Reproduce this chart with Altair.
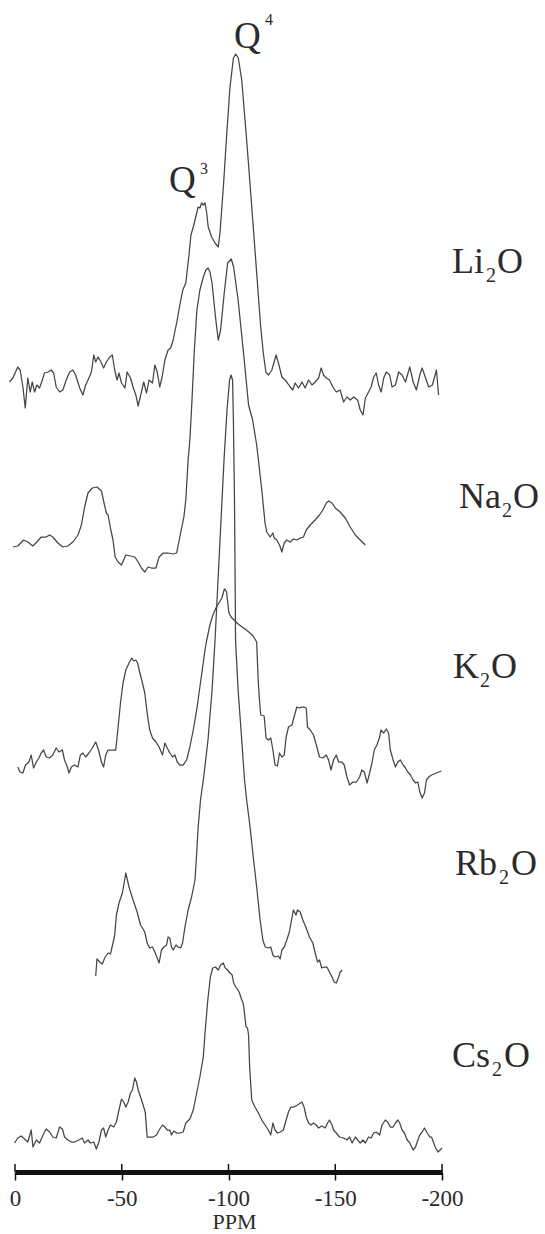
import altair as alt
import pandas as pd

# ---------------- data ----------------
series = ["Li2O", "Na2O", "K2O", "Rb2O", "Cs2O"]
# vertical offset of each spectrum's baseline (stacking offset, arbitrary units)
offsets = [790, 627, 410, 217, 34]

li_ppm = [2.6, 1.0, -1.3, -2.4, -3.7, -4.8, -6.0, -7.1, -8.1, -9.2, -10.2, -11.5, -12.8, -13.8, -15.4,
          -17.0, -18.1, -19.3, -20.9, -22.4, -24.0, -25.6, -27.1, -28.4, -30.3, -31.8, -33.1, -34.2, -35.8,
          -36.9, -37.8, -38.9, -40.5, -41.5, -42.8, -44.4, -45.6, -46.7, -47.8, -48.7, -49.9, -51.5, -52.5,
          -54.1, -55.3, -56.6, -57.7, -59.2, -60.3, -61.6, -62.8, -64.4, -65.5, -66.6, -67.8, -68.9, -70.2,
          -71.7, -72.9, -74.1, -75.7,
          -77.2, -78.6, -80.0, -81.5, -82.4, -83.5, -85.1, -85.8, -86.6, -87.4, -88.2, -89.0, -89.8, -90.5,
          -92.1, -93.7, -95.2, -96.0, -97.6, -99.2, -100.7, -102.3, -103.4, -104.6, -106.2, -108.5, -110.9,
          -112.4, -113.8, -115.0, -116.3, -117.5,
          -118.7, -120.3, -122.3, -123.4, -125.0, -126.5, -127.6, -128.9, -130.1, -131.2, -132.8, -134.4,
          -135.9, -137.5, -139.1, -140.6, -142.2, -143.4, -144.5, -145.8, -147.3, -148.9, -150.5, -152.3,
          -153.9, -155.5, -157.0, -158.6, -160.5, -161.7, -163.0, -164.1, -165.6, -166.8, -168.0, -169.2,
          -170.3, -171.5, -172.7, -173.9, -175.5, -176.6, -178.2, -179.7, -181.3, -182.9, -184.9, -186.5,
          -188.0, -189.6, -190.7, -192.3, -193.8, -195.5, -197.4, -198.4]
li_int = [0, 4, 15, 12, -5, -26, 4, -10, 0, -10, -3, -6, 2, 9, 10, 12, 9, -5, -10, -8,
          2, 10, 12, 7, -6, -13, -3, 2, 10, 27, 20, 25, 19, 14, 20, 25, 27, 12, 2, 9,
          -1, -6, 10, 4, -5, -13, -24, -10, 0, -11, 2, -1, 17, 10, -5, 5, 22, 32, 34, 42, 59,
          77, 92, 99, 127, 147, 155, 169, 175, 174, 179, 177, 179, 169, 155, 145, 139, 135, 149, 195, 249,
          295, 324, 328, 324, 302, 242, 175, 132, 92, 57, 29, 10,
          7, 12, 27, 19, 5, 2, -1, -5, -8, -1, -6, 0, -6, 2, -3, 0, 4, 14, 7, 4,
          2, -5, -10, -8, -20, -15, -18, -15, -18, -28, -33, -16, -10, -5, 5, 9, -3, -10, 4, 10,
          7, -5, -3, 10, 7, 0, 15, 0, -8, 7, 14, 4, -5, -3, 12, -13]

na_ppm = [1.0, -1.3, -4.0, -6.0, -8.4, -10.2, -12.3, -14.6, -16.2, -17.7, -20.1, -22.4, -24.8, -27.1,
          -29.5, -31.1, -32.6, -34.2, -36.2, -38.4, -40.5, -41.7, -42.8, -43.6, -44.7, -45.9, -46.9, -48.3,
          -49.9, -51.9, -54.1, -56.1, -57.7, -59.2, -60.8, -62.3, -63.9, -66.0, -67.5, -69.4, -71.7, -74.1,
          -75.7, -77.2, -79.1, -80.0, -81.1, -81.9,
          -82.9, -84.0, -85.2, -86.6, -88.2, -89.4, -90.4, -91.3, -92.3, -93.9, -95.2, -96.3, -98.0, -99.6,
          -101.3, -102.4, -104.5, -106.9, -109.4, -111.3, -113.2, -115.6, -117.1, -117.9,
          -119.5, -120.8, -121.4, -122.6, -123.9, -125.0, -126.1, -127.3, -128.9, -130.4, -132.0, -133.6,
          -135.1, -136.4, -138.3, -140.6, -142.6, -144.2, -145.8, -146.9, -148.5, -150.0, -152.3, -154.7,
          -157.0, -159.4, -161.7, -164.1]
na_int = [-2, -1, 5, 3, -1, 3, 8, 8, 10, 8, 2, -2, -1, 3, 10, 20, 38, 52, 57, 58,
          54, 42, 32, 30, 17, 5, -12, -17, -20, -10, -11, -12, -17, -23, -27, -22, -23, -23, -12, -8,
          -8, -9, -8, 8, 28, 45, 85, 105,
          145, 195, 235, 255, 268, 275, 277, 273, 262, 228, 205, 215, 252, 282, 286, 278, 245, 195, 140, 125,
          100, 55, 22, 13,
          8, 12, 7, 5, 0, -7, 2, 5, 3, 6, 5, 7, 8, 15, 20, 25, 30, 35, 42, 44, 42, 37, 33, 27, 18, 10, 5, 0]

k_ppm = [-1.3, -2.4, -3.7, -4.9, -6.5, -7.6, -8.7, -10.0, -11.2, -12.3, -13.4, -14.6, -16.2, -17.7, -19.3,
         -20.6, -22.2, -23.2, -24.5, -25.3, -26.4, -27.9, -29.5, -30.6, -31.8, -33.1, -34.6, -36.2, -37.8,
         -39.1, -40.5, -41.5, -42.5, -43.6, -45.9, -47.2, -48.3, -49.4, -50.6, -51.9, -53.4, -54.7, -55.6,
         -56.6, -57.4, -58.5, -59.7, -60.8, -61.9, -63.1, -64.4, -66.0, -67.5, -69.1, -70.2, -71.3, -72.5,
         -73.8, -74.9, -76.0, -77.2, -78.8, -80.4, -81.9, -83.5, -85.1, -86.6, -87.9, -89.0, -89.8,
         -91.3, -92.7, -94.1, -95.5, -96.9, -97.7, -98.1, -98.6, -99.1, -99.5, -100.2, -101.2, -102.6,
         -104.5, -106.4, -108.3, -110.1, -111.5, -113.2, -113.9, -114.5, -115.1,
         -116.7, -117.6, -118.7, -119.8, -120.8, -121.8, -122.9,
         -123.9, -125.0, -126.1, -127.0, -128.1, -129.7, -130.7, -132.0, -133.2, -134.4, -135.4, -136.4,
         -137.0, -138.3, -139.8, -141.4, -142.6, -144.2, -145.8, -146.9, -148.0, -149.2, -150.5, -151.6,
         -153.1, -154.2, -155.5, -156.7, -158.3, -159.9, -161.4, -162.5, -163.6, -164.9, -166.1, -167.2,
         -168.3, -169.5, -170.8, -171.4, -172.7, -173.9, -175.0, -175.8, -177.1, -178.2, -179.3, -180.5,
         -181.8, -182.9, -184.0, -185.2, -186.5, -187.6, -188.7, -189.6, -190.7, -191.8, -192.7, -193.8,
         -195.1, -197.4, -199.7]
k_int = [-5, -10, -11, -3, 0, 7, -6, 0, 4, 9, 12, 5, 4, 7, 14, 10, 12, 2, -5, -11,
         -5, -3, -5, 7, 9, 5, 9, 14, 20, 12, 0, -5, 7, 12, 12, 12, 35, 59, 79, 92,
         99, 104, 101, 102, 99, 89, 79, 69, 49, 32, 24, 20, 15, 7, 19, 14, 9, 5, 7, 0,
         -3, -3, 2, 15, 32, 52, 75, 95, 112, 122,
         137, 147, 154, 159, 164, 170, 173, 172, 170, 162, 149, 145, 142,
         138, 135, 132, 129, 126, 120, 82, 62, 47,
         46, 24, 22, 24, 12, -3, -4,
         9, 5, 7, 25, 35, 37, 45, 55, 54, 55, 55, 54, 35, 32, 27,
         15, 5, 4, 7, 2, -8, 2, 7, 0, 0, -3, -15, -23, -20, -20, -15, -8, -10, -21, -11,
         -1, 12, 17, 25, 32, 29, 33, 29, 12, 2, -5, 0, 2, -3, -6, -10, -13, -18, -21, -20,
         -30, -36, -31, -18, -15, -13, -11, -9]

rb_ppm = [-37.8, -38.4, -39.7, -40.9, -42.0, -43.6, -44.7, -45.9, -46.7, -47.5, -48.7, -50.3, -51.9, -53.4,
          -55.3, -57.2, -58.8, -59.7, -60.8, -61.9, -63.1, -64.4, -65.5, -66.6, -67.5, -68.6, -69.7, -71.0,
          -71.7, -72.5, -73.3, -74.1, -75.4, -76.4, -77.6, -78.5, -79.6, -81.1, -82.7, -84.3, -85.1, -85.8,
          -86.9,
          -88.5, -90.4, -92.3, -93.7, -95.1, -96.5, -97.9, -99.3, -100.5, -101.2, -101.9, -102.3, -102.8,
          -103.1, -103.3, -104.5, -106.2, -107.5, -108.5,
          -110.1, -111.6, -113.2, -114.8, -116.1, -117.2, -118.7, -119.8, -120.8, -121.8, -123.4, -124.2,
          -125.0, -126.1, -127.3, -128.5, -129.7, -130.4, -131.6, -132.3, -133.6, -134.8, -136.4, -137.9,
          -139.5, -140.6, -141.7, -142.6, -143.7, -144.8, -146.1, -147.3, -148.5, -149.5, -150.5, -151.6,
          -152.3, -153.3]
rb_int = [-21, -4, -7, -9, -3, 2, 1, 12, 20, 40, 52, 62, 82, 68, 55, 43, 30, 27, 23, 12,
          7, 8, 3, -3, -8, 5, 8, 10, 18, 17, 8, 5, 10, 8, 7, 12, 28, 45, 58, 75, 102, 128, 155,
          180, 215, 265, 315, 375, 435, 495, 545, 575, 580, 575, 535, 455, 375, 315, 265, 215, 175, 155,
          128, 98, 68, 35, 15, 8, 7, 8, 0, -2, -1, -4, 5, 8, 15, 23, 37, 45, 40, 45,
          43, 35, 27, 18, 12, 2, -7, -5, -13, -12, -12, -17, -22, -27, -28, -22, -17, -15]

cs_ppm = [0.2, -1.3, -2.9, -4.5, -6.0, -7.6, -8.4, -10.0, -11.5, -13.1, -14.6, -16.2, -17.7, -19.3, -20.9,
          -22.2, -23.2, -24.8, -26.4, -27.9, -29.9, -31.5, -32.6, -34.2, -35.3, -36.9, -38.1, -39.3, -40.5,
          -41.5, -42.5, -43.6, -44.7, -46.2, -47.5, -48.7, -49.9, -50.9, -51.9, -53.0, -54.1, -55.0, -56.1,
          -56.9, -57.7, -58.8, -60.0, -61.0, -61.9, -63.1, -64.7, -66.3, -67.5, -69.1, -70.2, -71.3, -72.5,
          -73.3, -74.4, -75.7, -77.2, -78.8, -80.0, -81.9, -83.5,
          -85.1, -86.6, -88.2, -89.0, -90.3, -91.5, -92.6, -93.9, -95.2, -96.3, -97.5, -98.5, -99.6, -100.7,
          -101.7, -102.4, -103.7, -105.0, -106.2, -106.9, -107.7, -108.2, -108.9, -109.4, -109.9, -110.9,
          -112.4, -114.0, -115.6, -117.1, -118.7, -119.8, -120.8, -121.8, -122.9, -124.2, -125.7, -127.0,
          -128.1, -129.2, -130.7, -132.3, -134.4, -135.4, -136.4, -137.5, -138.6, -139.8, -141.1, -142.2,
          -143.7, -145.3, -146.4, -147.3, -148.5, -149.2, -150.5, -152.0, -153.9, -155.5, -156.7, -157.9,
          -159.4, -160.5, -161.7, -163.0, -164.1, -165.6, -166.8, -168.0, -169.2, -170.8, -171.9, -173.5,
          -174.6, -175.8, -177.1, -178.2, -179.3, -180.2, -181.3, -182.4, -183.7, -184.9, -186.5, -187.6,
          -188.7, -189.6, -190.7, -191.8, -193.1, -194.3, -195.1, -196.8, -198.1, -200.0]
cs_int = [-5, 0, 2, -1, -4, 8, -9, -2, -5, 3, 9, 6, 1, 0, 11, 9, 1, -2, -4, -4,
          -2, 0, -5, -2, -5, -4, -11, -4, 8, 10, 1, 8, 13, 11, 16, 28, 39, 36, 31, 36,
          45, 48, 60, 56, 48, 41, 33, 26, 1, 1, 1, 3, 8, 13, 11, 8, 8, 3, 7, 5,
          5, 6, 15, 19, 28,
          45, 61, 81, 105, 138, 161, 170, 171, 168, 173, 175, 170, 168, 165, 163, 155, 150, 146, 138, 135,
          121, 111, 110, 103, 71, 38,
          31, 25, 18, 13, 8, 3, 15, 8, 5, 6, 8, 18, 26, 31, 31, 33, 36, 31, 21, 15,
          13, 15, 13, 10, 12, 10, 15, 18, 13, 8, 5, 1, 0, -2, 1, -5, 1, -2, -5, -2,
          -5, 1, 0, 5, 6, 3, 13, 18, 16, 11, 11, 15, 18, 15, 8, 5, -2, -5, -12, -9,
          -2, 3, 6, 10, 5, 1, 1, -9, -14, -10]

tick_values = [0, -50, -100, -150, -200]

# ---------------- table ----------------
ppm_lists = [li_ppm, na_ppm, k_ppm, rb_ppm, cs_ppm]
int_lists = [li_int, na_int, k_int, rb_int, cs_int]
rows = []
for name, off, xs, ys in zip(series, offsets, ppm_lists, int_lists):
    assert len(xs) == len(ys), (name, len(xs), len(ys))
    for i, (p, v) in enumerate(zip(xs, ys)):
        rows.append({"series": name, "idx": i, "ppm": p, "signal": off + v})
df = pd.DataFrame(rows)

H = 1172
W = 427
FONT = "Liberation Serif"
INK = "#2b2b2b"

xscale = alt.Scale(domain=[0, -200], nice=False, zero=False)
yscale = alt.Scale(domain=[0, H], nice=False, zero=False)
xaxis = alt.Axis(
    values=tick_values, labelExpr="'' + datum.value", labelFont=FONT, labelFontSize=23,
    labelColor=INK, labelPadding=7, labelFlush=False, labelOverlap=False,
    tickSize=8, tickWidth=1.5, tickColor="#111", domainColor="#111", domainWidth=5,
    grid=False, title="PPM", titleFont=FONT, titleFontSize=22, titleFontWeight="normal",
    titleColor=INK, titleX=219, titleY=56, titleBaseline="alphabetic", titleAlign="center",
)
xenc = alt.X("ppm:Q", scale=xscale, axis=xaxis)

lines = alt.Chart(df).mark_line(color="#454545", strokeWidth=1.25, strokeJoin="round").encode(
    x=xenc,
    y=alt.Y("signal:Q", scale=yscale, axis=None),
    detail="series:N",
    order="idx:Q",
)

upticks = alt.Chart(pd.DataFrame({"ppm": tick_values})).mark_rule(color="#111", strokeWidth=1.5).encode(
    x=xenc, y=alt.value(H - 8), y2=alt.value(H)
)


def txt(s, x, y, size):
    # x, y in pixels from the plot's top-left corner
    return alt.Chart(pd.DataFrame({"t": [s]})).mark_text(
        font=FONT, fontSize=size, color=INK, align="left", baseline="alphabetic"
    ).encode(text="t:N", x=alt.value(x), y=alt.value(y))


annos = [
    txt("Q", 219, 48, 37), txt("4", 250, 25, 16),
    txt("Q", 154, 192, 37), txt("3", 185, 174, 16),
    txt("Li", 437, 273, 36), txt("2", 471, 282, 20), txt("O", 482, 273, 36),
    txt("Na", 444, 508, 36), txt("2", 487, 517, 20), txt("O", 498, 508, 36),
    txt("K", 438, 678, 36), txt("2", 465, 687, 20), txt("O", 476, 678, 36),
    txt("Rb", 440, 875, 36), txt("2", 484, 884, 20), txt("O", 496, 875, 36),
    txt("Cs", 437, 1067, 36), txt("2", 477, 1076, 20), txt("O", 489, 1067, 36),
]

chart = alt.layer(lines, upticks, *annos).properties(
    width=W, height=H,
    autosize=alt.AutoSizeParams(type="none"),
    padding={"left": 15, "top": 0, "right": 103, "bottom": 62},
    background="white",
).configure_view(strokeWidth=0)

chart.save("out.html", embed_options={"renderer": "svg", "actions": False})
